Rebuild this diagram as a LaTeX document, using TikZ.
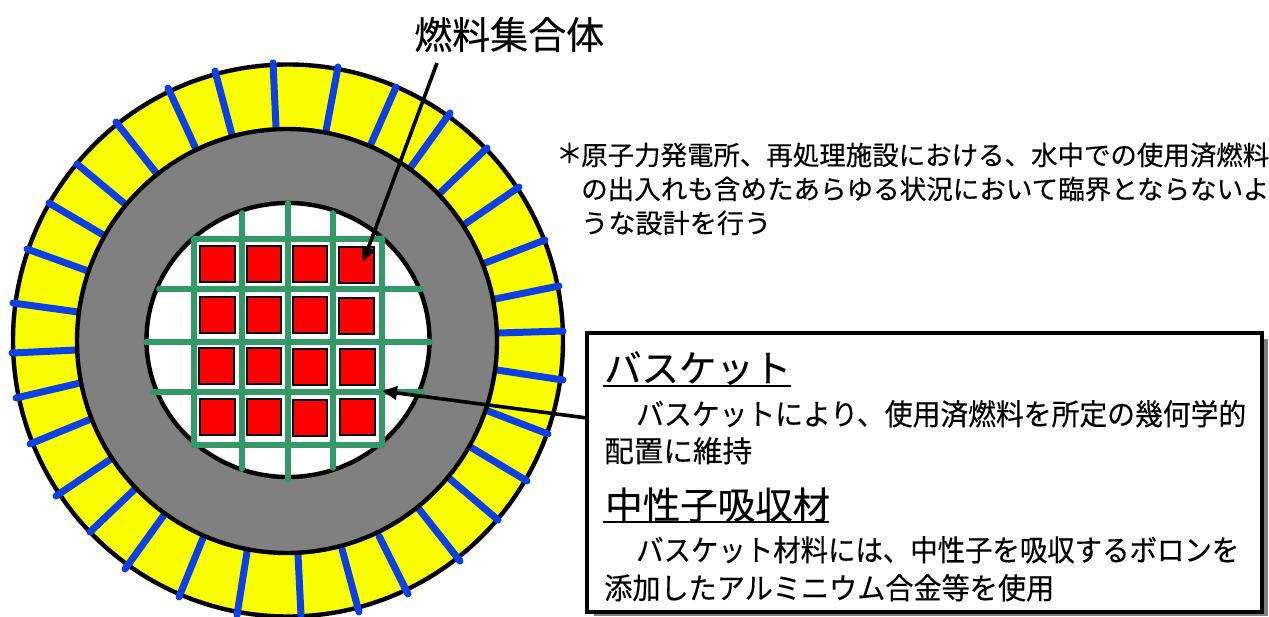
\documentclass[tikz,border=0pt]{standalone}
\usepackage{graphicx}
\usepackage{fontspec}
\setmainfont[FakeBold=0.3]{Noto Sans CJK JP}
\usetikzlibrary{arrows.meta}
\newcommand{\fitw}[2]{\resizebox{#1pt}{\height}{#2}}
\definecolor{ringyellow}{RGB}{250,255,0}
\definecolor{ringgray}{RGB}{128,128,128}
\definecolor{finblue}{RGB}{11,63,232}
\definecolor{gridgreen}{RGB}{51,153,102}
\tikzset{
  ring/.style={draw=black,line width=4.4pt},
  fin/.style={draw=finblue,line width=7pt,line cap=round},
  grid line/.style={draw=gridgreen,line width=5.6pt,line cap=round},
  fuel/.style={draw=black,fill=red,line width=2.4pt},
  pointer/.style={draw=black,line width=3.6pt,-{Triangle[length=15pt,width=13pt]}},
  label/.style={inner sep=0pt,anchor=base west,text=black},
  uline/.style={draw=black,line width=1.4pt},
}
\begin{document}
\begin{tikzpicture}[x=1pt,y=-1pt]
\useasboundingbox (0,0) rectangle (1269,617);
% rings
\filldraw[ring,fill=ringyellow] (288,340.5) ellipse [x radius=275,y radius=276];
\foreach \xa/\ya/\xb/\yb in {
 273/63/276/127, 215/71/232/135, 168/88/196/149, 116/122/157/174,
 77/164/125/204, 49/203/105/236, 27/249/88/271, 13/303/78/312,
 12/353/77/350, 16/398/80/383, 30/444/91/419, 56/496/111/459,
 90/532/135/489, 125/569/164/515, 179/597/203/538, 237/615/247/552,
 301/615/298/555, 359/612/342/549, 408/594/379/536, 460/561/419/509,
 498/520/450/479, 527/481/472/448, 548/434/488/411, 563/380/497/370,
 563/331/499/333, 559/286/495/299, 545/240/485/263, 519/187/465/224,
 487/148/440/193, 450/113/411/167, 396/87/371/144, 338/67/326/131}
 {\draw[fin] (\xa,\ya) -- (\xb,\yb);}
\filldraw[ring,fill=ringgray] (287,341) ellipse [x radius=210,y radius=212];
\filldraw[ring,fill=white] (288,340) ellipse [x radius=141.5,y radius=137];
% basket grid
\foreach \xx/\ya/\yb in {194/239/445, 242/213/469, 288/203/479, 333/213/468, 382/238/445}
 {\draw[grid line] (\xx,\ya) -- (\xx,\yb);}
\foreach \yy/\xa/\xb in {239/194/382, 289/159/421, 342/146/430, 392/153/422, 445/194/382}
 {\draw[grid line] (\xa,\yy) -- (\xb,\yy);}
% fuel assemblies
\foreach \xa/\ya/\xb/\yb in {
 200/246/235/282, 247/246/281/282, 293/246/327/282, 339/247/374/283,
 200/297/235/333, 247/297/281/333, 293/297/327/333, 339/298/374/334,
 199/348/234/384, 247/348/281/384, 293/349/327/385, 340/349/375/385,
 200/399/235/435, 247/399/281/435, 293/400/327/436, 340/399/375/435}
 {\filldraw[fuel] (\xa,\ya) rectangle (\xb,\yb);}
% title and note
\node[label] (title) at (414,49) {\fontsize{38}{40}\selectfont 燃料集合体};
\node[label] (star) at (556,163) {\fontsize{26.5}{28}\selectfont ＊};
\node[label] (note1) at (581,165) {\fitw{688}{\fontsize{26.5}{28}\selectfont 原子力発電所、再処理施設における、水中での使用済燃料}};
\node[label] (note2) at (581,199) {\fitw{688}{\fontsize{26.5}{28}\selectfont の出入れも含めたあらゆる状況において臨界とならないよ}};
\node[label] (note3) at (581,233) {\fitw{190}{\fontsize{26.5}{28}\selectfont うな設計を行う}};
% text box
\fill[ringgray] (594,339) rectangle (1268,616);
\node[draw=black,fill=white,line width=3.4pt,inner sep=0pt,outer sep=0pt,anchor=north west,minimum width=675pt,minimum height=279pt] (box) at (587,333) {};
\node[label] (h1) at (604,382) {\fitw{187}{\fontsize{37.5}{40}\selectfont バスケット}};
\coordinate (h1a) at (603,386); \coordinate (h1b) at (791,386);
\draw[uline] (h1a) -- (h1b);
\node[label] (t1) at (636,425) {\fitw{610}{\fontsize{29.5}{32}\selectfont バスケットにより、使用済燃料を所定の幾何学的}};
\node[label] (t2) at (604,462) {\fitw{148}{\fontsize{29.5}{32}\selectfont 配置に維持}};
\node[label] (h2) at (605,519) {\fitw{225}{\fontsize{37.5}{40}\selectfont 中性子吸収材}};
\coordinate (h2a) at (603,522); \coordinate (h2b) at (829,522);
\draw[uline] (h2a) -- (h2b);
\node[label] (t3) at (636,561) {\fitw{603}{\fontsize{29.5}{32}\selectfont バスケット材料には、中性子を吸収するボロンを}};
\node[label] (t4) at (604,599) {\fitw{450}{\fontsize{29.5}{32}\selectfont 添加したアルミニウム合金等を使用}};
% pointers
\coordinate (titlefoot) at (437,63);
\coordinate (fueltip) at (363,262);
\draw[pointer] (titlefoot) -- (fueltip);
\coordinate (boxedge) at (587,418);
\coordinate (baskettip) at (382,391);
\draw[pointer] (boxedge) -- (baskettip);
\end{tikzpicture}
\end{document}
